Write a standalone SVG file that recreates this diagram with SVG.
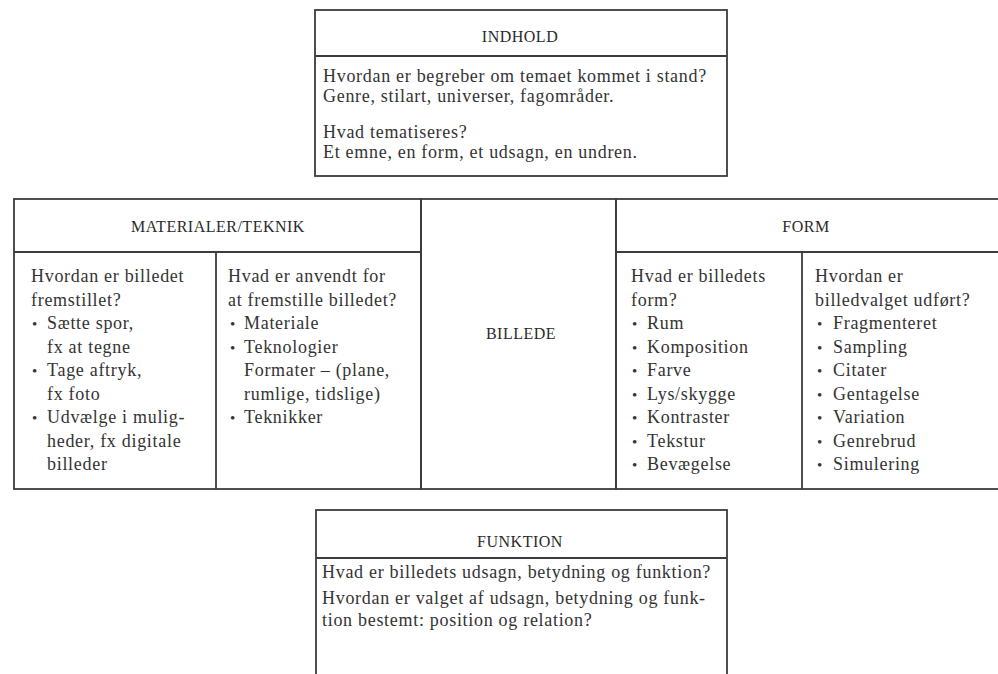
<svg xmlns="http://www.w3.org/2000/svg" width="998" height="674" viewBox="0 0 998 674">
<style>
  .bg { fill: #ffffff; }
  .box { fill: none; stroke: #3c3c3c; stroke-width: 1.8; }
  .ln { stroke: #3c3c3c; stroke-width: 1.8; fill: none; }
  .hd { font-family: "Liberation Serif", "Times New Roman", serif; font-size: 16px; letter-spacing: 0.5px; fill: #2a2a2a; text-anchor: middle; }
  .tx { font-family: "Liberation Serif", "Times New Roman", serif; font-size: 18px; letter-spacing: 0.7px; fill: #333333; }
  .bu { font-family: "Liberation Serif", "Times New Roman", serif; font-size: 15px; fill: #333333; }
</style>
<rect class="bg" x="0" y="0" width="998" height="674"/>

<g id="indhold">
  <rect class="box" x="315" y="10" width="412" height="166"/>
  <line class="ln" x1="315" y1="56" x2="727" y2="56"/>
  <text class="hd" x="520" y="42">INDHOLD</text>
  <text class="tx" x="323" y="82">Hvordan er begreber om temaet kommet i stand?</text>
  <text class="tx" x="323" y="102">Genre, stilart, universer, fagområder.</text>
  <text class="tx" x="323" y="138">Hvad tematiseres?</text>
  <text class="tx" x="323" y="158">Et emne, en form, et udsagn, en undren.</text>
</g>

<g id="materialer-teknik">
  <rect class="box" x="14" y="199" width="407" height="290"/>
  <line class="ln" x1="14" y1="252" x2="421" y2="252"/>
  <line class="ln" x1="216" y1="252" x2="216" y2="489"/>
  <text class="hd" x="218" y="232">MATERIALER/TEKNIK</text>
  <text class="tx" x="31" y="282">Hvordan er billedet</text>
  <text class="tx" x="31" y="305.5">fremstillet?</text>
  <text class="bu" x="32" y="329">•</text><text class="tx" x="47" y="329">Sætte spor,</text>
  <text class="tx" x="47" y="352.5">fx at tegne</text>
  <text class="bu" x="32" y="376">•</text><text class="tx" x="47" y="376">Tage aftryk,</text>
  <text class="tx" x="47" y="399.5">fx foto</text>
  <text class="bu" x="32" y="423">•</text><text class="tx" x="47" y="423">Udvælge i mulig-</text>
  <text class="tx" x="47" y="446.5">heder, fx digitale</text>
  <text class="tx" x="47" y="470">billeder</text>

  <text class="tx" x="228" y="282">Hvad er anvendt for</text>
  <text class="tx" x="228" y="305.5">at fremstille billedet?</text>
  <text class="bu" x="230" y="329">•</text><text class="tx" x="244" y="329">Materiale</text>
  <text class="bu" x="230" y="352.5">•</text><text class="tx" x="244" y="352.5">Teknologier</text>
  <text class="tx" x="244" y="376">Formater – (plane,</text>
  <text class="tx" x="244" y="399.5">rumlige, tidslige)</text>
  <text class="bu" x="230" y="423">•</text><text class="tx" x="244" y="423">Teknikker</text>
</g>

<g id="billede">
  <rect class="box" x="421" y="199" width="195" height="290"/>
  <text class="hd" x="521" y="339">BILLEDE</text>
</g>

<g id="form">
  <rect class="box" x="616" y="199" width="390" height="290"/>
  <line class="ln" x1="616" y1="252" x2="1006" y2="252"/>
  <line class="ln" x1="802" y1="252" x2="802" y2="489"/>
  <text class="hd" x="806" y="232">FORM</text>
  <text class="tx" x="631" y="282">Hvad er billedets</text>
  <text class="tx" x="631" y="305.5">form?</text>
  <text class="bu" x="632" y="329">•</text><text class="tx" x="647" y="329">Rum</text>
  <text class="bu" x="632" y="352.5">•</text><text class="tx" x="647" y="352.5">Komposition</text>
  <text class="bu" x="632" y="376">•</text><text class="tx" x="647" y="376">Farve</text>
  <text class="bu" x="632" y="399.5">•</text><text class="tx" x="647" y="399.5">Lys/skygge</text>
  <text class="bu" x="632" y="423">•</text><text class="tx" x="647" y="423">Kontraster</text>
  <text class="bu" x="632" y="446.5">•</text><text class="tx" x="647" y="446.5">Tekstur</text>
  <text class="bu" x="632" y="470">•</text><text class="tx" x="647" y="470">Bevægelse</text>

  <text class="tx" x="815" y="282">Hvordan er</text>
  <text class="tx" x="815" y="305.5">billedvalget udført?</text>
  <text class="bu" x="817" y="329">•</text><text class="tx" x="833" y="329">Fragmenteret</text>
  <text class="bu" x="817" y="352.5">•</text><text class="tx" x="833" y="352.5">Sampling</text>
  <text class="bu" x="817" y="376">•</text><text class="tx" x="833" y="376">Citater</text>
  <text class="bu" x="817" y="399.5">•</text><text class="tx" x="833" y="399.5">Gentagelse</text>
  <text class="bu" x="817" y="423">•</text><text class="tx" x="833" y="423">Variation</text>
  <text class="bu" x="817" y="446.5">•</text><text class="tx" x="833" y="446.5">Genrebrud</text>
  <text class="bu" x="817" y="470">•</text><text class="tx" x="833" y="470">Simulering</text>
</g>

<g id="funktion">
  <rect class="box" x="316" y="510" width="411" height="200"/>
  <line class="ln" x1="316" y1="558" x2="727" y2="558"/>
  <text class="hd" x="520" y="547">FUNKTION</text>
  <text class="tx" x="322" y="578">Hvad er billedets udsagn, betydning og funktion?</text>
  <text class="tx" x="322" y="604">Hvordan er valget af udsagn, betydning og funk-</text>
  <text class="tx" x="322" y="626">tion bestemt: position og relation?</text>
</g>

<g id="connectors"></g>
</svg>
